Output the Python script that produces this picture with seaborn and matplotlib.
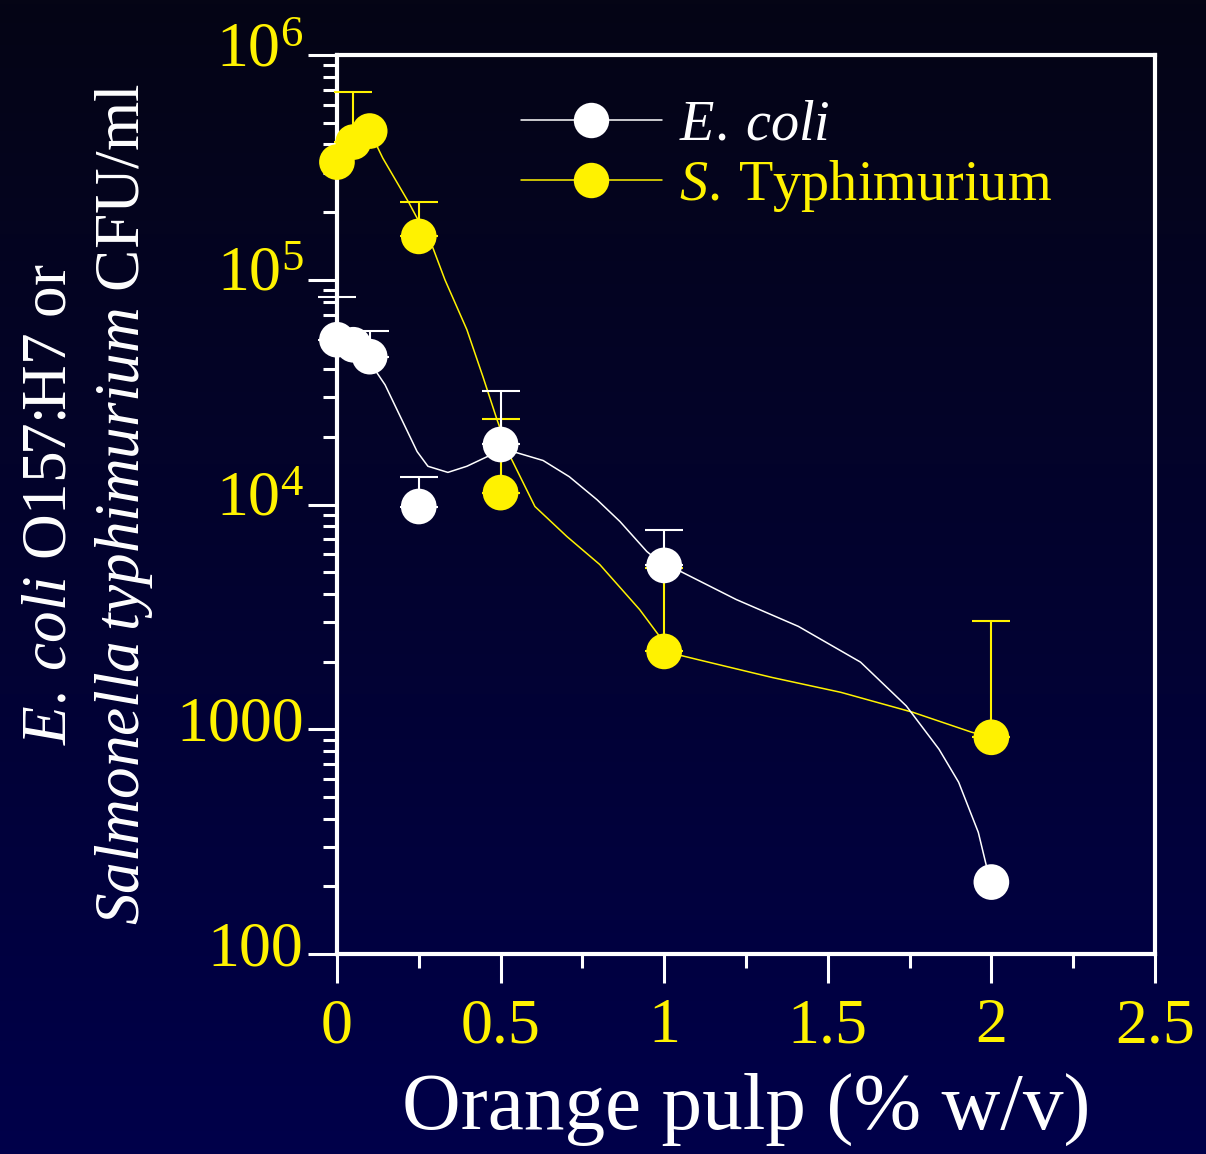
import numpy as np
import matplotlib
matplotlib.use('Agg')
import matplotlib.pyplot as plt
import matplotlib.transforms as mtransforms
import seaborn as sns
from matplotlib.lines import Line2D
from matplotlib.ticker import FixedLocator, FixedFormatter, LogLocator, NullFormatter

# measured points
pulp = [0, 0.05, 0.1, 0.25, 0.5, 1, 2]
ecoli = [54100, 51400, 45500, 9800, 18500, 5360, 209]
ecoli_err_top = [84000, None, 59300, 13200, 32100, 7740, None]
salm = [334000, 410000, 459000, 156000, 11300, 2220, 921]
salm_err_top = [None, 685000, None, 222000, 24100, 5200, 3020]

# smoothed curves
ecoli_fit_x = [0, 0.05, 0.1, 0.122, 0.147, 0.245, 0.278, 0.339, 0.397, 0.458, 0.5, 0.55,
               0.63, 0.71, 0.795, 0.865, 0.947, 1.0, 1.05, 1.22, 1.41, 1.6, 1.74, 1.84,
               1.9, 1.96, 1.985, 2.0]
ecoli_fit_y = [54100, 50400, 45000, 38600, 34100, 17200, 14800, 13900, 14800, 16300, 17200,
               17000, 15700, 13300, 10500, 8400, 6180, 5350, 5040, 3780, 2870, 1990, 1270,
               815, 581, 348, 246, 209]
salm_fit_x = [0, 0.05, 0.1, 0.14, 0.22, 0.293, 0.33, 0.397, 0.446, 0.489, 0.53, 0.605,
              0.703, 0.803, 0.925, 0.986, 1.0, 1.11, 1.33, 1.54, 1.76, 1.94, 2.0]
salm_fit_y = [334000, 410000, 459000, 348000, 220000, 139000, 100000, 60000, 37100, 23900,
              16300, 9800, 7200, 5410, 3410, 2590, 2220, 2030, 1700, 1460, 1190, 970, 921]

ytick_vals = [100, 1000, 1e4, 1e5, 1e6]
ytick_labels = ['100', '1000', r'$10^{4}$', r'$10^{5}$', r'$10^{6}$']
xtick_vals = [0, 0.5, 1, 1.5, 2, 2.5]
xtick_labels = ['0', '0.5', '1', '1.5', '2', '2.5']

WHITE = '#ffffff'
YELLOW = '#fff200'

sns.set_theme(style='ticks')
plt.rcParams['font.family'] = ['Liberation Serif', 'DejaVu Serif']
plt.rcParams['mathtext.fontset'] = 'custom'
plt.rcParams['mathtext.rm'] = 'Liberation Serif'
plt.rcParams['mathtext.it'] = 'Liberation Serif:italic'

fig = plt.figure(figsize=(12.06, 11.54), dpi=100)

# background gradient
bg = fig.add_axes([0, 0, 1, 1], zorder=-10)
grad = np.linspace(0, 1, 256).reshape(-1, 1)
top = np.array([5, 5, 21]) / 255
bot = np.array([0, 0, 74]) / 255
img = top[None, None, :] * (1 - grad[:, :, None]) + bot[None, None, :] * grad[:, :, None]
bg.imshow(img, aspect='auto', extent=[0, 1, 0, 1])
bg.axis('off')

ax = fig.add_axes([0.2794, 0.1733, 0.6783, 0.779])
ax.patch.set_alpha(0)

# curves
sns.lineplot(x=salm_fit_x, y=salm_fit_y, ax=ax, color=YELLOW, linewidth=1.1, sort=False, zorder=2)
sns.lineplot(x=ecoli_fit_x, y=ecoli_fit_y, ax=ax, color=WHITE, linewidth=1.1, sort=False, zorder=2)

# error bars (upper only)
def draw_err(xs, ys, tops, color, z):
    ex = [x for x, t in zip(xs, tops) if t is not None]
    ey = [y for y, t in zip(ys, tops) if t is not None]
    eu = [t - y for y, t in zip(ys, tops) if t is not None]
    eb = ax.errorbar(ex, ey, yerr=[np.zeros(len(eu)), eu], fmt='none', ecolor=color,
                     elinewidth=1.5, capsize=14, capthick=1.5, zorder=z)
    for a in eb.lines[1] + eb.lines[2]:
        a.set_clip_on(False)

draw_err(pulp, salm, salm_err_top, YELLOW, 3)
draw_err(pulp, ecoli, ecoli_err_top, WHITE, 5)

# markers
sns.scatterplot(x=pulp, y=salm, ax=ax, s=660, color=YELLOW, edgecolor='none', zorder=4, clip_on=False)
sns.scatterplot(x=pulp, y=ecoli, ax=ax, s=660, color=WHITE, edgecolor='none', zorder=6, clip_on=False)

ax.set_yscale('log')
ax.set_xlim(0, 2.5)
ax.set_ylim(100, 1e6)

ax.yaxis.set_major_locator(FixedLocator(ytick_vals))
ax.yaxis.set_major_formatter(FixedFormatter(ytick_labels))
ax.yaxis.set_minor_locator(LogLocator(base=10, subs=np.arange(2, 10)))
ax.yaxis.set_minor_formatter(NullFormatter())
ax.xaxis.set_major_locator(FixedLocator(xtick_vals))
ax.xaxis.set_major_formatter(FixedFormatter(xtick_labels))
ax.xaxis.set_minor_locator(FixedLocator([0.25, 0.75, 1.25, 1.75, 2.25]))

for s in ax.spines.values():
    s.set_color(WHITE)
    s.set_linewidth(3)
ax.tick_params(which='major', direction='out', length=21, width=2.2, color=WHITE,
               labelcolor=YELLOW, labelsize=46, top=False, right=False)
ax.tick_params(which='minor', direction='out', length=10, width=2.2, color=WHITE,
               top=False, right=False)
ax.tick_params(axis='x', which='major', pad=11)
ax.tick_params(axis='y', which='major', pad=3)

# nudge y tick labels up a little
shift = mtransforms.ScaledTranslation(0, 11 / 100, fig.dpi_scale_trans)
for t in ax.yaxis.get_major_ticks():
    t.label1.set_transform(t.label1.get_transform() + shift)

ax.set_xlabel('Orange pulp (% w/v)', color=WHITE, fontsize=58.5, labelpad=12)
ax.set_ylabel(r'$\mathit{E.\:coli}$ O157:H7 or' + '\n' + r'$\mathit{Salmonella\:typhimurium}$ CFU/ml',
              color=WHITE, fontsize=45.5, labelpad=15, linespacing=1.3)

handles = [
    Line2D([], [], color=WHITE, linewidth=1.1, marker='o', markersize=25.5, markeredgewidth=0,
           markerfacecolor=WHITE),
    Line2D([], [], color=YELLOW, linewidth=1.1, marker='o', markersize=25.5, markeredgewidth=0,
           markerfacecolor=YELLOW),
]
leg = ax.legend(handles, [r'$\mathit{E.\:coli}$', r'$\mathit{S.}\:\mathrm{Typhimurium}$'],
                loc='upper left', bbox_to_anchor=(0.225, 0.950), frameon=False,
                fontsize=40.5, handlelength=2.5, handletextpad=0.3, labelspacing=0.1,
                borderpad=0, borderaxespad=0)
leg.get_texts()[0].set_color(WHITE)
leg.get_texts()[1].set_color(YELLOW)

fig.savefig('out.png', dpi=100, facecolor=fig.get_facecolor())
